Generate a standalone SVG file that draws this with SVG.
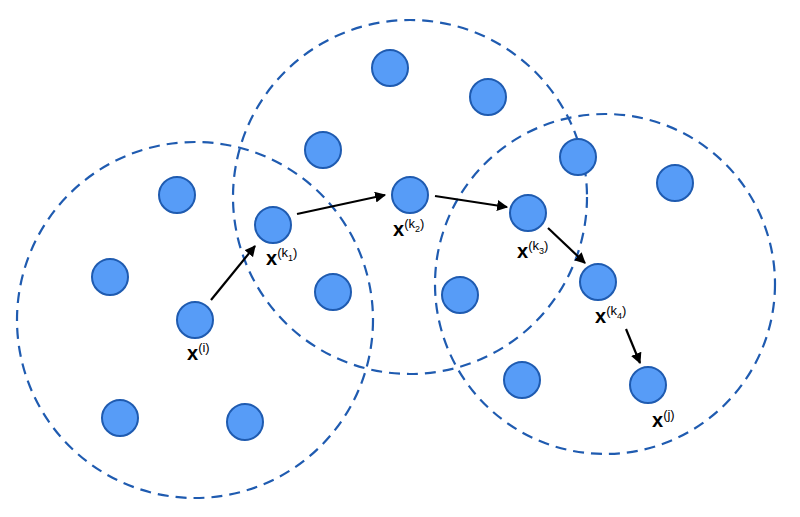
<svg xmlns="http://www.w3.org/2000/svg" width="800" height="517" viewBox="0 0 800 517">
<style>
.big{fill:none;stroke:#1f5bb0;stroke-width:2.2;stroke-dasharray:11 7}
.n{fill:#579cf7;stroke:#1f5bb0;stroke-width:2}
.e{stroke:#000;stroke-width:2.2;fill:none;marker-end:url(#a)}
text{font-family:"Liberation Sans",Arial,sans-serif;fill:#000}
.x{font-size:20px;font-weight:bold}
.s{font-size:13px}
.ss{font-size:9px}
</style>
<defs><marker id="a" viewBox="0 0 10 10" refX="9" refY="5" markerWidth="5" markerHeight="5" orient="auto"><path d="M0,0L10,5L0,10z" fill="#000"/></marker></defs>
<rect width="800" height="517" fill="#fff"/>
<g id="regions">
<circle class="big" cx="195" cy="320" r="178"/>
<circle class="big" cx="410" cy="197" r="177"/>
<circle class="big" cx="605" cy="284" r="170"/>
</g>
<g id="nodes">
<circle id="n1" class="n" cx="177" cy="195" r="18"/>
<circle id="n2" class="n" cx="110" cy="277" r="18"/>
<circle id="xi" class="n" cx="195" cy="320" r="18"/>
<circle id="n4" class="n" cx="120" cy="418" r="18"/>
<circle id="n5" class="n" cx="245" cy="422" r="18"/>
<circle id="xk1" class="n" cx="273" cy="225" r="18"/>
<circle id="n7" class="n" cx="323" cy="150" r="18"/>
<circle id="n8" class="n" cx="333" cy="292" r="18"/>
<circle id="n9" class="n" cx="390" cy="68" r="18"/>
<circle id="n10" class="n" cx="488" cy="97" r="18"/>
<circle id="xk2" class="n" cx="410" cy="195" r="18"/>
<circle id="n12" class="n" cx="578" cy="157" r="18"/>
<circle id="n13" class="n" cx="675" cy="183" r="18"/>
<circle id="xk3" class="n" cx="528" cy="213" r="18"/>
<circle id="n15" class="n" cx="460" cy="295" r="18"/>
<circle id="xk4" class="n" cx="598" cy="282" r="18"/>
<circle id="n17" class="n" cx="522" cy="380" r="18"/>
<circle id="xj" class="n" cx="648" cy="385" r="18"/>
</g>
<g id="connectors">
<line class="e" x1="211" y1="300" x2="255" y2="246"/>
<line class="e" x1="297" y1="214" x2="385" y2="195"/>
<line class="e" x1="435" y1="196" x2="507" y2="207"/>
<line class="e" x1="548" y1="228" x2="585" y2="263"/>
<line class="e" x1="626" y1="329" x2="640" y2="363"/>
</g>
<g id="labels">
<text x="187" y="360"><tspan class="x">x</tspan><tspan class="s" dy="-8">(i)</tspan></text>
<text x="266" y="265"><tspan class="x">x</tspan><tspan class="s" dy="-8">(k</tspan><tspan class="ss" dy="4">1</tspan><tspan class="s" dy="-4">)</tspan></text>
<text x="393" y="236"><tspan class="x">x</tspan><tspan class="s" dy="-8">(k</tspan><tspan class="ss" dy="4">2</tspan><tspan class="s" dy="-4">)</tspan></text>
<text x="517" y="258"><tspan class="x">x</tspan><tspan class="s" dy="-8">(k</tspan><tspan class="ss" dy="4">3</tspan><tspan class="s" dy="-4">)</tspan></text>
<text x="595" y="323"><tspan class="x">x</tspan><tspan class="s" dy="-8">(k</tspan><tspan class="ss" dy="4">4</tspan><tspan class="s" dy="-4">)</tspan></text>
<text x="652" y="427"><tspan class="x">x</tspan><tspan class="s" dy="-8">(j)</tspan></text>
</g>
</svg>
